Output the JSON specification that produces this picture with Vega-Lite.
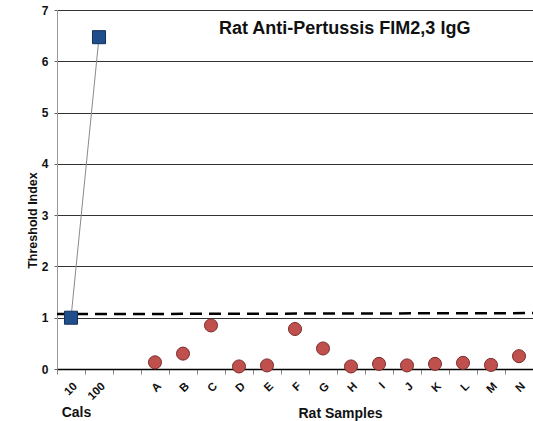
{
  "$schema": "https://vega.github.io/schema/vega-lite/v6.json",
  "width": 476,
  "height": 359,
  "autosize": {"type": "none"},
  "padding": {"left": 57, "top": 10, "right": 0, "bottom": 52},
  "background": "white",
  "title": {
    "text": "Rat Anti-Pertussis FIM2,3 IgG",
    "anchor": "start",
    "frame": "group",
    "dx": 162,
    "dy": 38,
    "font": "Liberation Sans",
    "fontSize": 18,
    "fontWeight": "bold",
    "color": "#111111"
  },
  "config": {
    "view": {"stroke": null},
    "font": "Liberation Sans"
  },
  "datasets": {
    "points": [
      {"cat": "10", "group": "Cals", "value": 1.0},
      {"cat": "100", "group": "Cals", "value": 6.47},
      {"cat": "A", "group": "Rat", "value": 0.13},
      {"cat": "B", "group": "Rat", "value": 0.30},
      {"cat": "C", "group": "Rat", "value": 0.85},
      {"cat": "D", "group": "Rat", "value": 0.05},
      {"cat": "E", "group": "Rat", "value": 0.07},
      {"cat": "F", "group": "Rat", "value": 0.78},
      {"cat": "G", "group": "Rat", "value": 0.40},
      {"cat": "H", "group": "Rat", "value": 0.05},
      {"cat": "I", "group": "Rat", "value": 0.10},
      {"cat": "J", "group": "Rat", "value": 0.07},
      {"cat": "K", "group": "Rat", "value": 0.10},
      {"cat": "L", "group": "Rat", "value": 0.12},
      {"cat": "M", "group": "Rat", "value": 0.08},
      {"cat": "N", "group": "Rat", "value": 0.25}
    ],
    "cutoff": [
      {"pos": 0, "value": 1.07},
      {"pos": 1, "value": 1.09}
    ]
  },
  "layer": [
    {
      "data": {"name": "cutoff"},
      "mark": {"type": "line", "color": "#000000", "strokeWidth": 2.5, "strokeDash": [12, 7]},
      "encoding": {
        "x": {
          "field": "pos",
          "type": "quantitative",
          "scale": {"domain": [0, 1], "nice": false},
          "axis": {
            "orient": "bottom",
            "labels": false,
            "ticks": false,
            "domain": false,
            "grid": false,
            "title": "Cals",
            "titleFont": "Liberation Sans",
            "titleFontSize": 14,
            "titleFontWeight": "bold",
            "titleColor": "#111111",
            "titleX": 19,
            "titleY": 47,
            "titleBaseline": "alphabetic",
            "titleAlign": "center"
          }
        },
        "y": {
          "field": "value",
          "type": "quantitative",
          "scale": {"domain": [0, 7], "nice": false},
          "axis": {
            "title": "Threshold Index",
            "titleFont": "Liberation Sans",
            "titleFontSize": 12.5,
            "titleFontWeight": "bold",
            "titleColor": "#111111",
            "titleY": 210,
            "titleX": -25,
            "titleAlign": "center",
            "titleBaseline": "middle",
            "values": [0, 1, 2, 3, 4, 5, 6, 7],
            "grid": true,
            "gridColor": "#333333",
            "gridWidth": 1,
            "domainColor": "#999999",
            "tickColor": "#666666",
            "tickSize": 3,
            "labelFont": "Liberation Sans",
            "labelFontSize": 12,
            "labelFontWeight": "bold",
            "labelColor": "#111111",
            "labelPadding": 6
          }
        }
      }
    },
    {
      "data": {"name": "points"},
      "encoding": {
        "x": {
          "field": "cat",
          "type": "nominal",
          "sort": null,
          "scale": {
            "type": "band",
            "domain": ["10", "100", " ", "A", "B", "C", "D", "E", "F", "G", "H", "I", "J", "K", "L", "M", "N"],
            "paddingInner": 0,
            "paddingOuter": 0
          },
          "axis": {
            "orient": "bottom",
            "title": "Rat Samples",
            "titleFont": "Liberation Sans",
            "titleFontSize": 14,
            "titleFontWeight": "bold",
            "titleColor": "#111111",
            "titleX": 283,
            "titleY": 48,
            "titleBaseline": "alphabetic",
            "titleAlign": "center",
            "tickBand": "extent",
            "tickColor": "#888888",
            "tickSize": 5,
            "domainColor": "#000000",
            "domainWidth": 1.5,
            "labelAngle": -45,
            "labelFont": "Liberation Sans",
            "labelFontSize": 11.5,
            "labelFontWeight": "bold",
            "labelColor": "#111111",
            "labelPadding": 6,
            "grid": false
          }
        },
        "y": {
          "field": "value",
          "type": "quantitative",
          "scale": {"domain": [0, 7], "nice": false},
          "axis": {
            "title": "Threshold Index",
            "titleFont": "Liberation Sans",
            "titleFontSize": 12.5,
            "titleFontWeight": "bold",
            "titleColor": "#111111",
            "titleY": 210,
            "titleX": -25,
            "titleAlign": "center",
            "titleBaseline": "middle",
            "values": [0, 1, 2, 3, 4, 5, 6, 7],
            "grid": true,
            "gridColor": "#333333",
            "gridWidth": 1,
            "domainColor": "#999999",
            "tickColor": "#666666",
            "tickSize": 3,
            "labelFont": "Liberation Sans",
            "labelFontSize": 12,
            "labelFontWeight": "bold",
            "labelColor": "#111111",
            "labelPadding": 6
          }
        }
      },
      "layer": [
        {
          "transform": [{"filter": "datum.group === 'Cals'"}],
          "mark": {"type": "line", "color": "#8a8a8a", "strokeWidth": 1}
        },
        {
          "transform": [{"filter": "datum.group === 'Cals'"}],
          "mark": {"type": "square", "filled": true, "size": 170, "fill": "#1F4E8A", "stroke": "#12305a", "strokeWidth": 1, "opacity": 1}
        },
        {
          "transform": [{"filter": "datum.group === 'Rat'"}],
          "mark": {"type": "circle", "filled": true, "size": 170, "fill": "#C0504D", "stroke": "#7a2e2c", "strokeWidth": 1, "opacity": 1}
        }
      ]
    }
  ],
  "resolve": {"scale": {"x": "independent"}}
}
